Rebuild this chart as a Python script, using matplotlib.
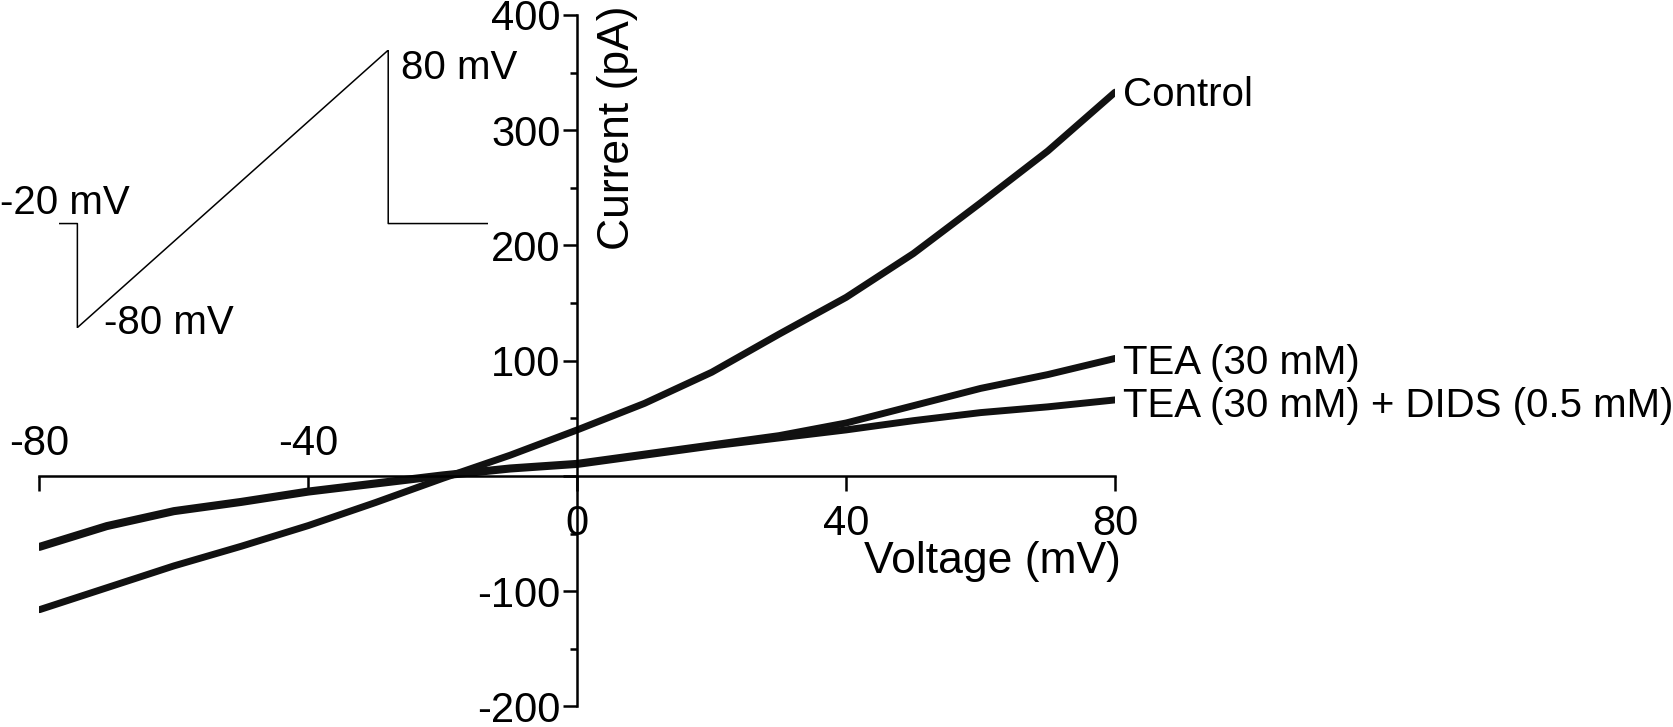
import matplotlib
matplotlib.use('Agg')
from matplotlib import pyplot as plt
from matplotlib.ticker import MultipleLocator

plt.rcParams['font.family'] = ['Liberation Sans', 'DejaVu Sans']

# I-V ramp data (mV, pA)
voltage = [-80, -70, -60, -50, -40, -30, -20, -10, 0, 10, 20, 30, 40, 50, 60, 70, 80]
control = [-116, -97, -78, -61, -43, -23, -2, 18, 40, 63, 90, 123, 155, 193, 237, 282, 333]
tea = [-61, -43, -30, -22, -13, -6, 1, 7, 11, 19, 27, 35, 46, 61, 76, 88, 102]
tea_dids = [-62, -44, -31, -23, -14, -7, 0, 6, 10, 18, 26, 33, 40, 48, 55, 60, 66]
labels = ['Control', 'TEA (30 mM)', 'TEA (30 mM) + DIDS (0.5 mM)']
label_y = [331, 98, 61]

# voltage protocol shown in the inset (ms, mV)
prot_t = [0, 30, 30, 530, 530, 690]
prot_v = [-20, -20, -80, 80, -20, -20]

fig = plt.figure(figsize=(16.73, 7.27), dpi=100)
ax = fig.add_axes([0.0236, 0.0282, 0.6429, 0.9512])

for ys in (control, tea, tea_dids):
    ax.plot(voltage, ys, color='#111111', lw=5.0, solid_joinstyle='round',
            solid_capstyle='round')

ax.set_xlim(-80, 80)
ax.set_ylim(-200, 400)
ax.spines['left'].set_position(('data', 0))
ax.spines['bottom'].set_position(('data', 0))
ax.spines['right'].set_visible(False)
ax.spines['top'].set_visible(False)
ax.spines['left'].set_linewidth(1.8)
ax.spines['bottom'].set_linewidth(1.8)

ax.set_xticks([-80, -40, 0, 40, 80])
ax.set_xticklabels(['', '', '0', '40', '80'])
ax.set_yticks([-200, -100, 0, 100, 200, 300, 400])
ax.set_yticklabels(['-200', '-100', '', '100', '200', '300', '400'])
ax.yaxis.set_minor_locator(MultipleLocator(50))
ax.tick_params(axis='x', which='major', direction='out', length=11, width=1.8, pad=9, labelsize=30)
ax.tick_params(axis='y', which='major', direction='out', length=10, width=1.8, pad=2, labelsize=30)
ax.tick_params(axis='y', which='minor', direction='out', length=5, width=1.8)

# negative voltage labels sit above the axis
for xv in (-80, -40):
    ax.text(xv, 28, str(xv), ha='center', va='center', fontsize=30)

ax.text(6, 302, 'Current (pA)', rotation=90, ha='center', va='center', fontsize=32)
ax.text(61.8, -74, 'Voltage (mV)', ha='center', va='center', fontsize=32)

for lab, yv in zip(labels, label_y):
    ax.annotate(lab, xy=(80, yv), xytext=(6, 0), textcoords='offset points',
                ha='left', va='center', fontsize=29, annotation_clip=False)

# inset: voltage protocol
axi = fig.add_axes([0.0351, 0.5494, 0.2564, 0.3816])
axi.plot(prot_t, prot_v, color='black', lw=1.1)
axi.set_xlim(0, 690)
axi.set_ylim(-80, 80)
axi.axis('off')
fig.text(0.0, 0.721, '-20 mV', ha='left', va='center', fontsize=29)
fig.text(0.0619, 0.5555, '-80 mV', ha='left', va='center', fontsize=29)
fig.text(0.2399, 0.906, '80 mV', ha='left', va='center', fontsize=29)

fig.savefig('out.png', dpi=100)
